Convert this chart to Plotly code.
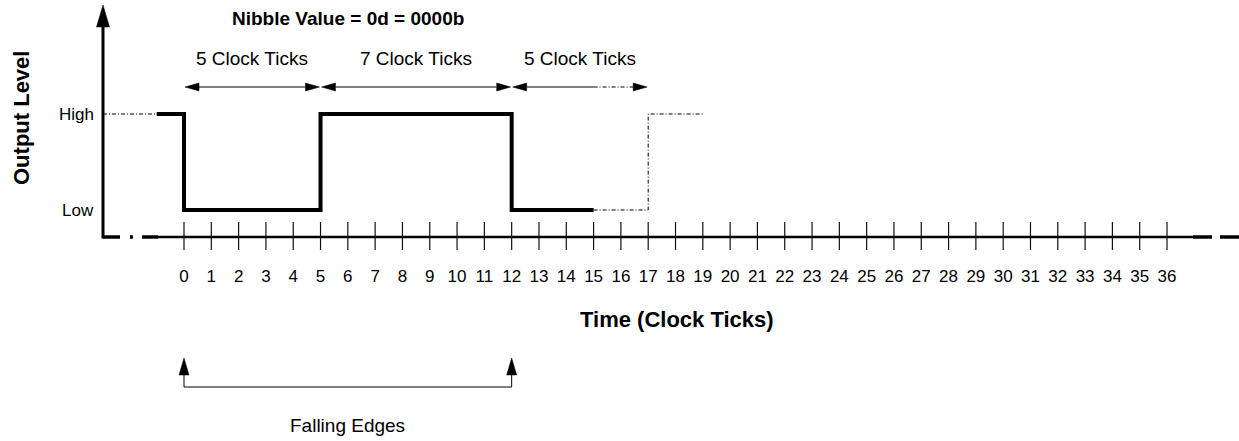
import plotly.graph_objects as go

# ---------------- data ----------------
tick_values = list(range(37))
tick_labels = [str(t) for t in tick_values]

level_names = ["Low", "High"]
level_values = [0, 1]

# known (solid) part of the waveform: time in clock ticks, level 0=Low 1=High
solid_t = [-1, 0, 0, 5, 5, 12, 12, 15]
solid_level = [1, 1, 0, 0, 1, 1, 0, 0]

# lead-in before the waveform (dash-dot), ends where the solid part starts
lead_end_t = -1
lead_level = 1

# continuation after the waveform (dash-dot)
future_t = [15, 17, 17, 19]
future_level = [0, 0, 1, 1]

# pulse spans
span_start = [0, 5, 12]
span_end = [5, 12, 17]
span_known_end = [5, 12, 15]
span_labels = ["5 Clock Ticks", "7 Clock Ticks", "5 Clock Ticks"]

falling_edges = [0, 12]

title_text = "Nibble Value = 0d = 0000b"
x_title = "Time (Clock Ticks)"
y_title = "Output Level"
edge_label = "Falling Edges"

# ---------------- geometry helpers (styling) ----------------
W, H = 1239, 441
X0_PX = 184.0          # pixel of tick 0
PX_PER_TICK = 27.306   # pixels per clock tick
LOW_PY, HIGH_PY = 210.0, 114.0
PX_PER_LEVEL = LOW_PY - HIGH_PY


def px2x(px):
    return (px - X0_PX) / PX_PER_TICK


def py2y(py):
    return (LOW_PY - py) / PX_PER_LEVEL


def dx(px):
    return px / PX_PER_TICK


def dy(px):
    return px / PX_PER_LEVEL


FONT = "Liberation Sans, Arial, sans-serif"
BLACK = "#000000"

fig = go.Figure()


def add_line(xs, ys, width=1.0, dash="solid", color=BLACK):
    fig.add_trace(go.Scatter(x=xs, y=ys, mode="lines",
                             line=dict(color=color, width=width, dash=dash),
                             hoverinfo="skip", showlegend=False))


def add_tri(xs, ys):
    fig.add_trace(go.Scatter(x=xs + [xs[0]], y=ys + [ys[0]], mode="lines",
                             fill="toself", fillcolor=BLACK,
                             line=dict(color=BLACK, width=0.5),
                             hoverinfo="skip", showlegend=False))


def harrow_head(x_tip, y, direction, length=14, half=4):
    xb = x_tip - direction * dx(length)
    add_tri([x_tip, xb, xb], [y, y + dy(half), y - dy(half)])


def varrow_head(x, y_tip, length=17, half=5):
    yb = y_tip - dy(length)
    add_tri([x, x - dx(half), x + dx(half)], [y_tip, yb, yb])


# ---------------- axes drawing ----------------
axis_x = px2x(103)
axis_y = py2y(237)

# vertical (Output Level) axis with arrow
add_line([axis_x, axis_x], [axis_y - dy(1.5), py2y(26)], width=3)
varrow_head(axis_x, py2y(5), length=22, half=6.5)

# horizontal (time) axis: break marks at both ends
add_line([axis_x, px2x(120)], [axis_y, axis_y], width=3.5)
add_line([px2x(130), px2x(133)], [axis_y, axis_y], width=3.5)
add_line([px2x(142), px2x(158)], [axis_y, axis_y], width=3.5)
add_line([px2x(158), px2x(1193)], [axis_y, axis_y], width=2.5)
add_line([px2x(1193), px2x(1212)], [axis_y, axis_y], width=3.5)
add_line([px2x(1220), px2x(1239)], [axis_y, axis_y], width=3.5)

# tick marks crossing the axis
tx, ty = [], []
for t in tick_values:
    tx += [t, t, None]
    ty += [py2y(222), py2y(250), None]
add_line(tx, ty, width=1.2, color="#111111")

# tick labels
fig.add_trace(go.Scatter(x=tick_values, y=[py2y(278)] * len(tick_values),
                         mode="text", text=tick_labels,
                         textfont=dict(family=FONT, size=17, color=BLACK),
                         hoverinfo="skip", showlegend=False))

# level labels
for name, lv in zip(level_names, level_values):
    fig.add_annotation(x=px2x(96), y=lv, text=name, showarrow=False,
                       xanchor="right", yanchor="middle",
                       font=dict(family=FONT, size=17, color=BLACK))

# ---------------- waveform ----------------
DASHDOT = "4px,2px,1px,2px"
add_line([axis_x, lead_end_t], [lead_level, lead_level], width=1, dash=DASHDOT)
add_line(future_t, future_level, width=1, dash=DASHDOT)
add_line(solid_t, solid_level, width=4)

# ---------------- span arrows ----------------
span_y = py2y(87)
AH = 14
for s, e, ke, lab in zip(span_start, span_end, span_known_end, span_labels):
    s_tip = s + dx(1)
    e_tip = e - dx(1)
    if ke >= e:
        add_line([s_tip + dx(AH), e_tip - dx(AH)], [span_y, span_y], width=1)
    else:
        add_line([s_tip + dx(AH), ke], [span_y, span_y], width=1)
        add_line([ke, e_tip - dx(AH)], [span_y, span_y], width=1, dash=DASHDOT)
    harrow_head(s_tip, span_y, -1, length=AH)
    harrow_head(e_tip, span_y, +1, length=AH)
    fig.add_annotation(x=(s + e) / 2, y=py2y(58), text=lab, showarrow=False,
                       xanchor="center", yanchor="middle",
                       font=dict(family=FONT, size=19, color=BLACK))

# ---------------- falling edges bracket ----------------
fe_y = py2y(387)
add_line([falling_edges[0], falling_edges[0], falling_edges[-1], falling_edges[-1]],
         [py2y(374), fe_y, fe_y, py2y(374)], width=1)
for fe in falling_edges:
    varrow_head(fe, py2y(358), length=17, half=5)
fig.add_annotation(x=sum(falling_edges) / len(falling_edges), y=py2y(425),
                   text=edge_label, showarrow=False, xanchor="center",
                   yanchor="middle", font=dict(family=FONT, size=19, color=BLACK))

# ---------------- titles ----------------
fig.add_annotation(x=px2x(348), y=py2y(18), text="<b>" + title_text + "</b>",
                   showarrow=False, xanchor="center", yanchor="middle",
                   font=dict(family=FONT, size=19, color=BLACK))
fig.add_annotation(x=px2x(677), y=py2y(319), text="<b>" + x_title + "</b>",
                   showarrow=False, xanchor="center", yanchor="middle",
                   font=dict(family=FONT, size=22, color=BLACK))
fig.add_annotation(x=px2x(21), y=py2y(118), text="<b>" + y_title + "</b>",
                   showarrow=False, textangle=-90, xanchor="center",
                   yanchor="middle", font=dict(family=FONT, size=22, color=BLACK))

fig.update_layout(
    width=W, height=H,
    margin=dict(l=0, r=0, t=0, b=0),
    paper_bgcolor="white", plot_bgcolor="white",
    xaxis=dict(range=[px2x(0), px2x(W)], visible=False, fixedrange=True),
    yaxis=dict(range=[py2y(H), py2y(0)], visible=False, fixedrange=True),
    showlegend=False,
)

fig.write_html(
    "out.html",
    config={"displayModeBar": False},
    post_script="document.body.style.margin='0px';"
                "document.body.style.padding='0px';"
                "document.body.style.overflow='hidden';",
)
